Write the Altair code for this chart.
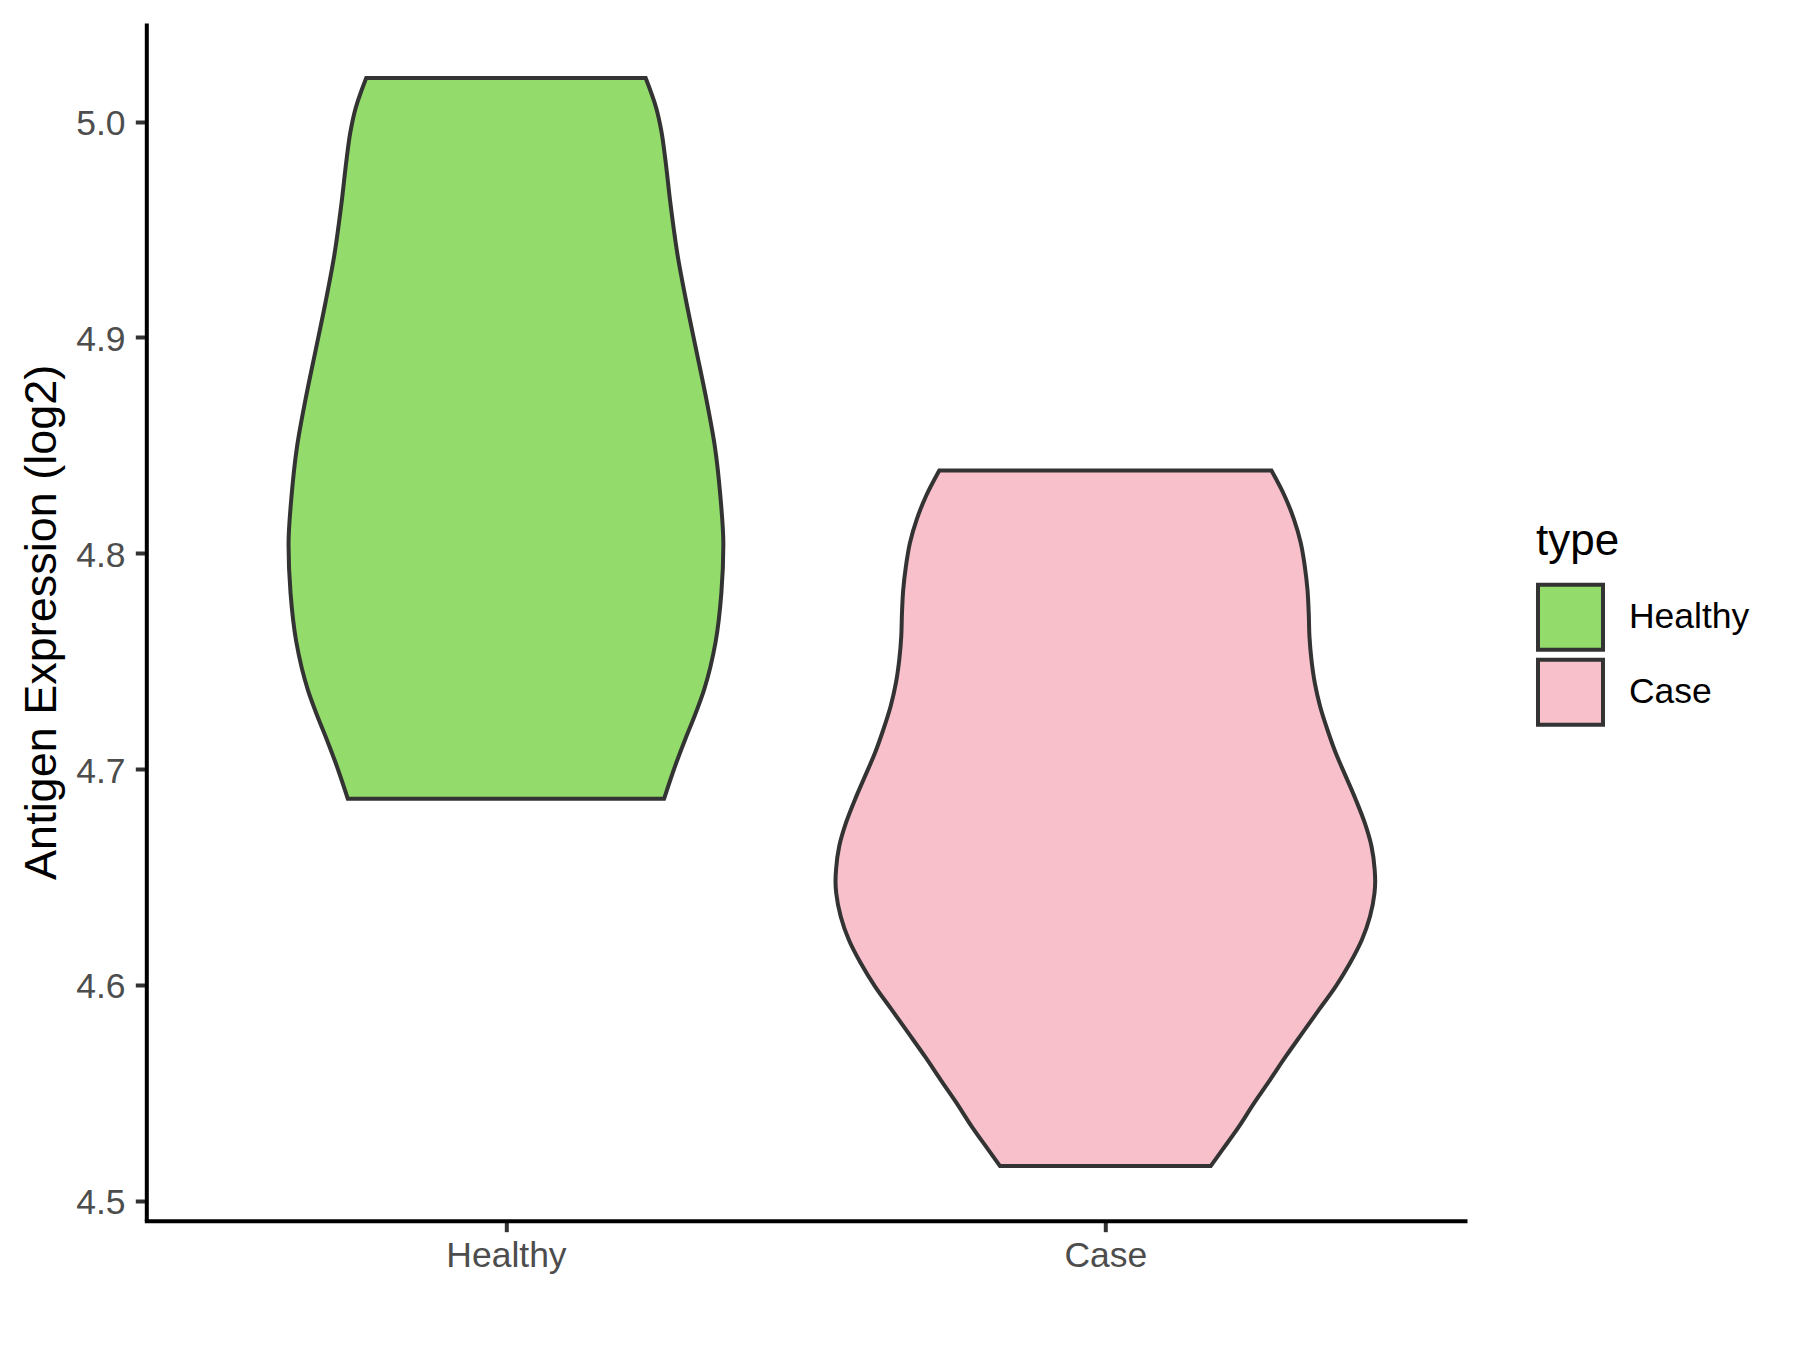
import altair as alt
import pandas as pd

# ---- data ----
categories = ["Healthy", "Case"]
fill_colors = ["#93DB6B", "#F8C0CB"]
y_ticks = [4.5, 4.6, 4.7, 4.8, 4.9, 5.0]

# violin outlines: expression value and half-width (in category units)
healthy_values = [5.0202, 5.0061, 4.9948, 4.9836, 4.9612, 4.9387, 4.9163, 4.8938,
                  4.8714, 4.8489, 4.8265, 4.8040, 4.7816, 4.7591, 4.7367, 4.7255,
                  4.7143, 4.7030, 4.6862]
healthy_widths = [0.2331, 0.2509, 0.2598, 0.2654, 0.2748, 0.2860, 0.3010, 0.3177,
                  0.3343, 0.3488, 0.3577, 0.3627, 0.3594, 0.3499, 0.3305, 0.3160,
                  0.2998, 0.2843, 0.2638]

case_values = [4.8383, 4.8264, 4.8156, 4.8048, 4.7940, 4.7831, 4.7723, 4.7615, 4.7507,
               4.7399, 4.7291, 4.7182, 4.7074, 4.6966, 4.6858, 4.6750, 4.6642, 4.6534,
               4.6480, 4.6425, 4.6317, 4.6209, 4.6101, 4.5993, 4.5885, 4.5777, 4.5668,
               4.5560, 4.5452, 4.5344, 4.5236, 4.5160]
case_widths = [0.2771, 0.2993, 0.3148, 0.3260, 0.3327, 0.3372, 0.3393, 0.3405, 0.3438,
               0.3494, 0.3582, 0.3705, 0.3844, 0.4011, 0.4178, 0.4328, 0.4440, 0.4493,
               0.4502, 0.4490, 0.4415, 0.4280, 0.4082, 0.3844, 0.3565, 0.3288, 0.3010,
               0.2748, 0.2481, 0.2231, 0.1954, 0.1758]

rows = []
for pos, (name, vals, wids) in enumerate(
        [("Healthy", healthy_values, healthy_widths), ("Case", case_values, case_widths)], start=1):
    for v, w in zip(vals, wids):
        rows.append({"type": name, "value": v, "left": pos - w, "right": pos + w})
df = pd.DataFrame(rows)

FONT = "Liberation Sans"
label_expr = " : ".join(
    [f"datum.value == {i + 1} ? '{c}'" for i, c in enumerate(categories[:-1])] + [f"'{categories[-1]}'"]
)

W = 1318.7
H = 1197.7

chart = alt.Chart(df).mark_area(
    orient="horizontal",
    interpolate="monotone",
    stroke="#333333",
    strokeWidth=4,
    opacity=1,
).encode(
    y=alt.Y("value:Q",
            scale=alt.Scale(domain=[4.4907, 5.0457], nice=False, zero=False),
            axis=alt.Axis(values=y_ticks, format=".1f", title="Antigen Expression (log2)",
                          grid=False, domainColor="black", domainWidth=4,
                          tickColor="#333333", tickWidth=4, tickSize=11,
                          labelFont=FONT, labelFontSize=35.5, labelColor="#4D4D4D",
                          labelPadding=10.3, labelOffset=2,
                          titleFont=FONT, titleFontSize=45, titleFontWeight="normal",
                          titleColor="black", titleAngle=270, titleX=-91.3, titleY=H / 2,
                          titleBaseline="alphabetic", titleAlign="center")),
    x=alt.X("left:Q", stack=False,
            scale=alt.Scale(domain=[0.4, 2.6], nice=False, zero=False),
            axis=alt.Axis(values=[1, 2], labelExpr=label_expr, title=None, grid=False,
                          domainColor="black", domainWidth=4, domainCap="square",
                          tickColor="#333333", tickWidth=4, tickSize=11,
                          labelFont=FONT, labelFontSize=35.5, labelColor="#4D4D4D",
                          labelPadding=7.3)),
    x2="right:Q",
    fill=alt.Fill("type:N",
                  scale=alt.Scale(domain=categories, range=fill_colors),
                  legend=alt.Legend(title="type", orient="none", legendX=1389.7, legendY=497.2,
                                    titleFont=FONT, titleFontSize=44, titleFontWeight="normal",
                                    titleColor="black", titlePadding=18.5,
                                    labelFont=FONT, labelFontSize=35.5, labelColor="black",
                                    labelOffset=24, symbolType="square", symbolSize=4225,
                                    symbolStrokeColor="#333333", symbolStrokeWidth=4,
                                    symbolOpacity=1, rowPadding=-8.5, padding=0)),
).properties(
    width=W,
    height=H,
    padding={"left": 138.3, "top": 15, "right": 323, "bottom": 110},
    autosize=alt.AutoSizeParams(type="none"),
).configure_view(stroke=None)

chart.save("out.html", embed_options={"renderer": "svg", "actions": False})
